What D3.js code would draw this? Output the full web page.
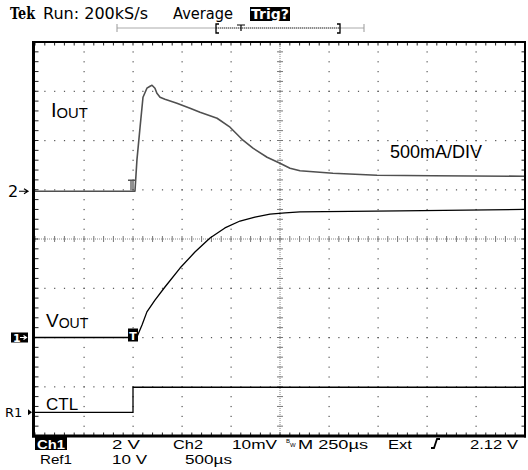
<!DOCTYPE html>
<html><head><meta charset="utf-8">
<script src="https://cdn.jsdelivr.net/npm/d3@7"></script>
<style>
html,body{margin:0;padding:0;background:#fff;}
svg{display:block;}
</style></head>
<body>
<svg id="c" width="528" height="470"></svg>
<script>
// ---- data (time in µs, trigger at 0; M 250µs/div) ----
const timeDomain = [-500, 2000];
// Ch2 (I_OUT), amps, 500mA/DIV
const ioutTime = [-500, 10, 20, 36, 51, 71, 87, 97, 112, 122, 138, 163, 224, 291, 342, 429, 495, 561, 612, 684, 750, 801, 852, 1020, 1245, 1531, 1995];
const ioutAmps = [0, 0, 0.315, 0.65, 0.954, 1.046, 1.066, 1.076, 1.046, 0.995, 0.954, 0.934, 0.893, 0.843, 0.802, 0.741, 0.65, 0.518, 0.437, 0.345, 0.284, 0.234, 0.208, 0.183, 0.162, 0.157, 0.152];
// Ch1 (V_OUT), volts, 2 V/div
const voutTime = [-500, 15, 20, 46, 71, 112, 163, 240, 316, 393, 469, 546, 622, 699, 776, 852, 1362, 1995];
const voutVolts = [0, 0, 0.02, 0.51, 1.04, 1.52, 2.05, 2.82, 3.47, 4.04, 4.45, 4.73, 4.89, 5.01, 5.06, 5.10, 5.14, 5.20];
// Ref1 (CTL), volts, 10 V/div
const ctlTime = [-500, 0, 0, 2000];
const ctlVolts = [0, 0, 5.1, 5.1];
// channel settings: units per division, zero offset (divisions from centre)
const ch2Scale = 0.5, ch2Offset = 0.97;
const ch1Scale = 2, ch1Offset = -2;
const ref1Scale = 10, ref1Offset = -3.52;
// readout labels
const topLabels = ["Run: 200kS/s", "Average", "Trig?"];
const row1Labels = ["Ch1", "2 V", "Ch2", "10mV", "M 250µs", "Ext", "2.12 V"];
const row2Labels = ["Ref1", "10 V", "500µs"];

// ---- layout ----
const svg = d3.select("#c");
const X0 = 35, X1 = 525, Y0 = 42, Y1 = 436;
const xDiv = d3.scaleLinear().domain([0, 10]).range([X0, X1]);
const yDiv = d3.scaleLinear().domain([-4, 4]).range([Y1, Y0]);
const xT = d3.scaleLinear().domain(timeDomain).range([X0, X1]);
const yCh = (scale, off) => v => yDiv(v / scale + off);

const g = svg.append("g");

// grid dots
const gridCol = "#555";
for (let i = 1; i < 10; i++) {
  if (i === 5) continue;
  for (let s = 0; s <= 40; s++) {
    g.append("rect").attr("x", xDiv(i) - 0.5).attr("y", yDiv(-4 + s / 5) - 0.5).attr("width", 1.2).attr("height", 1.2).attr("fill", gridCol);
  }
}
for (let j = -3; j <= 3; j++) {
  if (j === 0) continue;
  for (let s = 0; s <= 50; s++) {
    g.append("rect").attr("x", xDiv(s / 5) - 0.5).attr("y", yDiv(j) - 0.5).attr("width", 1.2).attr("height", 1.2).attr("fill", gridCol);
  }
}
// centre cross lines
g.append("line").attr("x1", X0).attr("x2", X1).attr("y1", yDiv(0)).attr("y2", yDiv(0)).attr("stroke", "#888").attr("stroke-width", 1).attr("stroke-dasharray", "1,1");
g.append("line").attr("y1", Y0).attr("y2", Y1).attr("x1", xDiv(5)).attr("x2", xDiv(5)).attr("stroke", "#888").attr("stroke-width", 1).attr("stroke-dasharray", "1,1");
for (let s = 0; s <= 50; s++) {
  const x = xDiv(s / 5);
  g.append("line").attr("x1", x).attr("x2", x).attr("y1", yDiv(0) - 3).attr("y2", yDiv(0) + 3).attr("stroke", "#777").attr("stroke-width", 1);
  g.append("line").attr("x1", x).attr("x2", x).attr("y1", Y0).attr("y2", Y0 + 3.5).attr("stroke", "#222").attr("stroke-width", 1);
  g.append("line").attr("x1", x).attr("x2", x).attr("y1", Y1).attr("y2", Y1 - 3.5).attr("stroke", "#222").attr("stroke-width", 1);
}
for (let s = 0; s <= 40; s++) {
  const y = yDiv(-4 + s / 5);
  g.append("line").attr("y1", y).attr("y2", y).attr("x1", xDiv(5) - 3).attr("x2", xDiv(5) + 3).attr("stroke", "#777").attr("stroke-width", 1);
  g.append("line").attr("y1", y).attr("y2", y).attr("x1", X0).attr("x2", X0 + 3.5).attr("stroke", "#222").attr("stroke-width", 1);
  g.append("line").attr("y1", y).attr("y2", y).attr("x1", X1).attr("x2", X1 - 3.5).attr("stroke", "#222").attr("stroke-width", 1);
}

// frame
g.append("line").attr("x1", 33.5).attr("x2", 33.5).attr("y1", Y0 - 1).attr("y2", Y1 + 1.5).attr("stroke", "#000").attr("stroke-width", 3);
g.append("line").attr("x1", 32).attr("x2", X1 + 1).attr("y1", Y0).attr("y2", Y0).attr("stroke", "#000").attr("stroke-width", 2);
g.append("line").attr("x1", X1).attr("x2", X1).attr("y1", Y0 - 1).attr("y2", Y1 + 1.5).attr("stroke", "#000").attr("stroke-width", 2);
g.append("line").attr("x1", 32).attr("x2", X1 + 1).attr("y1", Y1).attr("y2", Y1).attr("stroke", "#000").attr("stroke-width", 3);

// traces
const mk = (ts, vs, ys) => d3.line().x((d, i) => xT(ts[i])).y((d, i) => ys(vs[i]))(ts);
g.append("path").attr("d", mk(ioutTime, ioutAmps, yCh(ch2Scale, ch2Offset))).attr("fill", "none").attr("stroke", "#505050").attr("stroke-width", 1.6).attr("stroke-linejoin", "round");
g.append("path").attr("d", mk(voutTime, voutVolts, yCh(ch1Scale, ch1Offset))).attr("fill", "none").attr("stroke", "#000").attr("stroke-width", 1.3).attr("stroke-linejoin", "round");
g.append("path").attr("d", mk(ctlTime, ctlVolts, yCh(ref1Scale, ref1Offset))).attr("fill", "none").attr("stroke", "#000").attr("stroke-width", 1.3);

// trigger markers
const y2z = yCh(ch2Scale, ch2Offset)(0);
const txm = xT(0);
g.append("path").attr("d", `M${txm - 5},${y2z - 11}H${txm + 3}M${txm - 2},${y2z - 11}V${y2z - 1}M${txm},${y2z - 11}V${y2z - 1}`).attr("stroke", "#555").attr("stroke-width", 1.3).attr("fill", "none");
const y1z = yCh(ch1Scale, ch1Offset)(0);
g.append("rect").attr("x", txm - 5).attr("y", y1z - 9).attr("width", 10).attr("height", 13).attr("fill", "#000");
g.append("text").attr("x", txm).attr("y", y1z + 2.5).attr("text-anchor", "middle").attr("font-family", "DejaVu Sans").attr("font-weight", "bold").attr("font-size", 11).attr("fill", "#fff").text("T");

// trace labels
const lab = (x, y, main, sub, fs) => {
  const t = g.append("text").attr("x", x).attr("y", y).attr("font-family", "Liberation Sans, Arial").attr("font-size", fs).attr("fill", "#000");
  t.append("tspan").text(main);
  if (sub) t.append("tspan").attr("font-size", fs * 0.74).attr("dy", 1).text(sub);
};
lab(51, 117, "I", "OUT", 20);
lab(46, 327, "V", "OUT", 19);
lab(46, 410, "CTL", null, 17);
lab(390, 158, "500mA/DIV", null, 18);

// left channel markers
svg.append("text").attr("x", 8).attr("y", 197).attr("font-family", "DejaVu Sans").attr("font-size", 16).attr("fill", "#000").text("2");
svg.append("path").attr("d", `M19,${y2z}H27M24,${y2z - 2.5}L28,${y2z}L24,${y2z + 2.5}`).attr("stroke", "#000").attr("stroke-width", 1.2).attr("fill", "none");
svg.append("rect").attr("x", 11).attr("y", y1z - 5).attr("width", 17).attr("height", 10).attr("fill", "#000");
svg.append("text").attr("x", 13).attr("y", y1z + 4.5).attr("font-family", "DejaVu Sans").attr("font-weight", "bold").attr("font-size", 11).attr("fill", "#fff").text("1");
svg.append("path").attr("d", `M20,${y1z}H26M23.5,${y1z - 2}L26.5,${y1z}L23.5,${y1z + 2}`).attr("stroke", "#fff").attr("stroke-width", 1.2).attr("fill", "none");
const yrz = yCh(ref1Scale, ref1Offset)(0);
svg.append("text").attr("x", 5).attr("y", yrz + 5).attr("font-family", "DejaVu Sans").attr("font-size", 13).attr("fill", "#000").text("R1");
svg.append("path").attr("d", `M28,${yrz - 3}L32,${yrz}L28,${yrz + 3}Z`).attr("fill", "#000");

// top readout
svg.append("text").attr("x", 10).attr("y", 19).attr("font-family", "DejaVu Serif").attr("font-weight", "bold").attr("font-size", 16).attr("textLength", 25).attr("lengthAdjust", "spacingAndGlyphs").text("Tek");
const tFont = "DejaVu Sans";
svg.append("text").attr("x", 43).attr("y", 19).attr("font-family", tFont).attr("font-size", 15).attr("textLength", 105).attr("lengthAdjust", "spacingAndGlyphs").text(topLabels[0]);
svg.append("text").attr("x", 173).attr("y", 19).attr("font-family", tFont).attr("font-size", 15).attr("textLength", 60).attr("lengthAdjust", "spacingAndGlyphs").text(topLabels[1]);
svg.append("rect").attr("x", 250).attr("y", 7).attr("width", 40).attr("height", 14).attr("fill", "#000");
svg.append("text").attr("x", 251).attr("y", 19).attr("font-family", tFont).attr("font-weight", "bold").attr("font-size", 14).attr("fill", "#fff").attr("textLength", 38).attr("lengthAdjust", "spacingAndGlyphs").text(topLabels[2]);

// record-length bar
svg.append("line").attr("x1", 117).attr("x2", 364).attr("y1", 28).attr("y2", 28).attr("stroke", "#aaa").attr("stroke-width", 1);
svg.append("line").attr("x1", 216).attr("x2", 340).attr("y1", 28).attr("y2", 28).attr("stroke", "#444").attr("stroke-width", 1).attr("stroke-dasharray", "1,1");
svg.append("path").attr("d", "M117,24V32M364,24V32").attr("stroke", "#999").attr("stroke-width", 1);
svg.append("path").attr("d", "M219,24H216V33H219M337,24H340V33H337").attr("stroke", "#000").attr("stroke-width", 1.3).attr("fill", "none");
svg.append("path").attr("d", "M237,25H245M241,25V31").attr("stroke", "#000").attr("stroke-width", 1.2).attr("fill", "none");

// bottom readout
const bFont = "Liberation Sans, Arial";
const r1 = 448.5, r2 = 463.5;
const bt = (x, y, s, w, fill) => svg.append("text").attr("x", x).attr("y", y).attr("font-family", bFont).attr("font-size", 13).attr("fill", fill || "#000").attr("textLength", w).attr("lengthAdjust", "spacingAndGlyphs").text(s);
svg.append("rect").attr("x", 35).attr("y", 437).attr("width", 32).attr("height", 13).attr("fill", "#000");
bt(37, r1, row1Labels[0], 28, "#fff").attr("font-weight", "bold");
bt(112, r1, row1Labels[1], 28);
bt(173, r1, row1Labels[2], 30);
bt(232, r1, row1Labels[3], 45);
svg.append("text").attr("x", 286).attr("y", 443).attr("font-family", bFont).attr("font-size", 6).text("B");
svg.append("text").attr("x", 290).attr("y", 447).attr("font-family", bFont).attr("font-size", 6).text("W");
bt(298, r1, row1Labels[4], 70);
bt(388, r1, row1Labels[5], 24);
svg.append("path").attr("d", "M431,448H434L437,439H440").attr("stroke", "#000").attr("stroke-width", 1.8).attr("fill", "none");
bt(470, r1, row1Labels[6], 48);
bt(40, r2, row2Labels[0], 32);
bt(112, r2, row2Labels[1], 35);
bt(185, r2, row2Labels[2], 47);
</script>
</body></html>
